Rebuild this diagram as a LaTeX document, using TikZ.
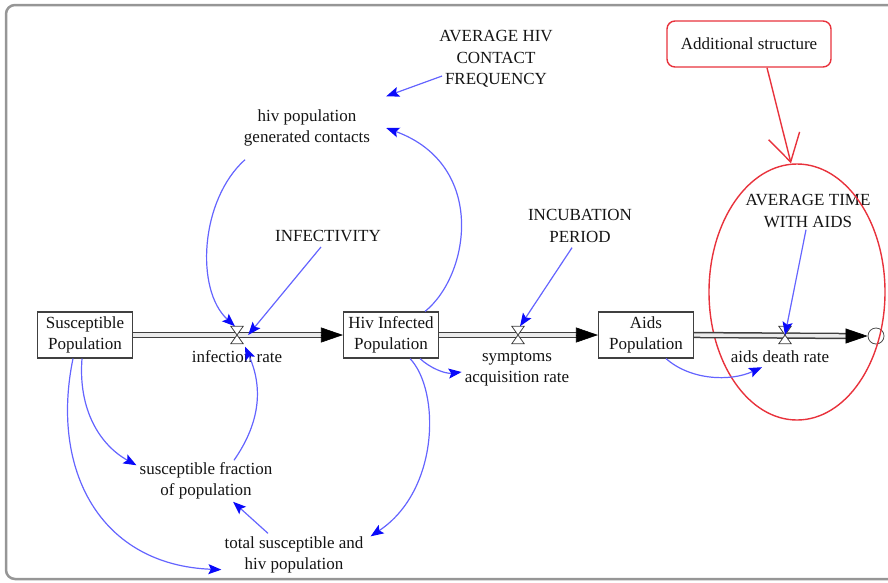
\documentclass[tikz,border=0pt]{standalone}
\usepackage{fontspec}
\setmainfont{Liberation Serif}
\usetikzlibrary{arrows.meta,calc,shapes.geometric}
\definecolor{linkblue}{RGB}{100,100,255}
\definecolor{tipblue}{RGB}{10,10,250}
\definecolor{notered}{RGB}{232,50,60}
\definecolor{framegray}{RGB}{150,150,150}
\definecolor{ink}{RGB}{20,20,20}
% hourglass valve drawn over a named valve node
\newcommand\drawvalve[1]{\draw[draw=black!75, line width=0.8pt, fill=white]
  (#1.north west) -- (#1.north east) -- (#1.south west) -- (#1.south east) -- cycle;}
\begin{document}
\begin{tikzpicture}[x=1pt,y=-1pt,
  every node/.style={font=\fontsize{17}{21.5}\selectfont, text=ink, align=center, inner sep=1pt},
  stock/.style={draw=black!75, line width=1.1pt, fill=white, minimum width=95pt, minimum height=46pt, inner sep=2pt},
  valvebox/.style={minimum width=12pt, minimum height=17pt, inner sep=0pt},
  pipe/.style={draw=black!75, line width=6.4pt, postaction={draw=black!8, line width=3.4pt}},
  pipetip/.style={draw=black, line width=0.6pt, -{Triangle[length=22pt,width=15pt]}},
  link/.style={draw=linkblue, line width=1.2pt, -{Stealth[length=13pt,width=10pt,inset=2.5pt,color=tipblue]}},
  notebox/.style={draw=notered, line width=1.4pt, rounded corners=8pt, minimum width=164pt, minimum height=46pt},
  focusring/.style={ellipse, draw=notered, line width=1.4pt, minimum width=176pt, minimum height=256pt, inner sep=0pt},
  notelink/.style={draw=notered, line width=1.4pt, -{Straight Barb[length=27pt,width=32pt]}},
]
\useasboundingbox (0,0) rectangle (888,582);
% outer frame
\draw[framegray, line width=2.5pt, rounded corners=9pt] (6,5) rectangle (912,579);

% stocks
\node[stock] (sp) at (85,335) {Susceptible\\Population};
\node[stock] (hp) at (391,335) {Hiv Infected\\Population};
\node[stock] (ap) at (646,335) {Aids\\Population};
\node[circle, draw=black!70, line width=0.8pt, minimum size=16pt, inner sep=0pt] (sink) at (876,336) {};

% valves and flow names
\node[valvebox] (v1) at (237,335) {};
\node[valvebox] (v2) at (518,335) {};
\node[valvebox] (v3) at (785,335) {};
\node (ir) at (237,357) {infection rate};
\node (sar) at (517,369) {symptoms\\acquisition rate};
\node (adr) at (780,357) {aids death rate};

% auxiliaries and constants
\node (freq) at (496,59) {AVERAGE HIV\\CONTACT\\FREQUENCY};
\node (hgc) at (307,128) {hiv population\\generated contacts};
\node (inf) at (328,236) {INFECTIVITY};
\node (inc) at (580,226) {INCUBATION\\PERIOD};
\node (atwa) at (808,211) {AVERAGE TIME\\WITH AIDS};
\node (sfp) at (206,481) {susceptible fraction\\of population};
\node (tshp) at (294,555) {total susceptible and\\hiv population};

% highlight
\node[notebox] (addl) at (749,44) {Additional structure};
\node[focusring] (focus) at (797,292) {};

% flows
\draw[pipe] (sp.east) -- ($(hp.west)+(-20,0)$);
\draw[pipetip] ($(hp.west)+(-22,0)$) -- (hp.west);
\draw[pipe] (hp.east) -- ($(ap.west)+(-20,0)$);
\draw[pipetip] ($(ap.west)+(-22,0)$) -- (ap.west);
\draw[pipe] (ap.east) -- ($(sink.west)+(-20,0)$);
\draw[pipetip] ($(sink.west)+(-22,0)$) -- (sink.west);
\drawvalve{v1}
\drawvalve{v2}
\drawvalve{v3}

% information links
\draw[link] ($(freq.west)+(4,17)$) -- ($(hgc.north east)+(15,-12)$);
\draw[link] ($(hp.north)+(34,0)$) .. controls (470,275) and (487,165) .. ($(hgc.east)+(15,0)$);
\draw[link] ($(hgc.south)+(-62,12)$) .. controls (200,200) and (195,290) .. ($(v1.north)+(-2,0)$);
\draw[link] ($(inf.south)+(-7,4)$) -- ($(v1.east)+(5,0)$);
\draw[link] ($(sfp.north)+(28,-1)$) .. controls (262,420) and (262,385) .. ($(ir.north)+(8,-3)$);
\draw[link] ($(sp.south)+(-3,0)$) .. controls (78,410) and (100,445) .. ($(sfp.north west)+(-2,4)$);
\draw[link] ($(sp.south)+(-12,0)$) .. controls (50,470) and (100,565) .. ($(tshp.south west)+(-2,-5)$);
\draw[link] ($(hp.south)+(19,0)$) .. controls (440,390) and (440,490) .. ($(tshp.north east)+(6,1)$);
\draw[link] ($(tshp.north)+(-26,-2)$) -- ($(sfp.south)+(27,1)$);
\draw[link] ($(hp.south)+(29,0)$) .. controls (430,368) and (445,374) .. ($(sar.west)+(-2,3)$);
\draw[link] ($(inc.south)+(-8,4)$) -- ($(v2.north)+(2,0)$);
\draw[link] ($(atwa.south)+(-2,1)$) -- (v3.center);
\draw[link] ($(ap.south)+(20,0)$) .. controls (690,380) and (730,382) .. ($(adr.south)+(-18,3)$);

% note arrow
\draw[notelink] ($(addl.south)+(18,0)$) -- ($(focus.north)+(-6,0)$);
\end{tikzpicture}
\end{document}
